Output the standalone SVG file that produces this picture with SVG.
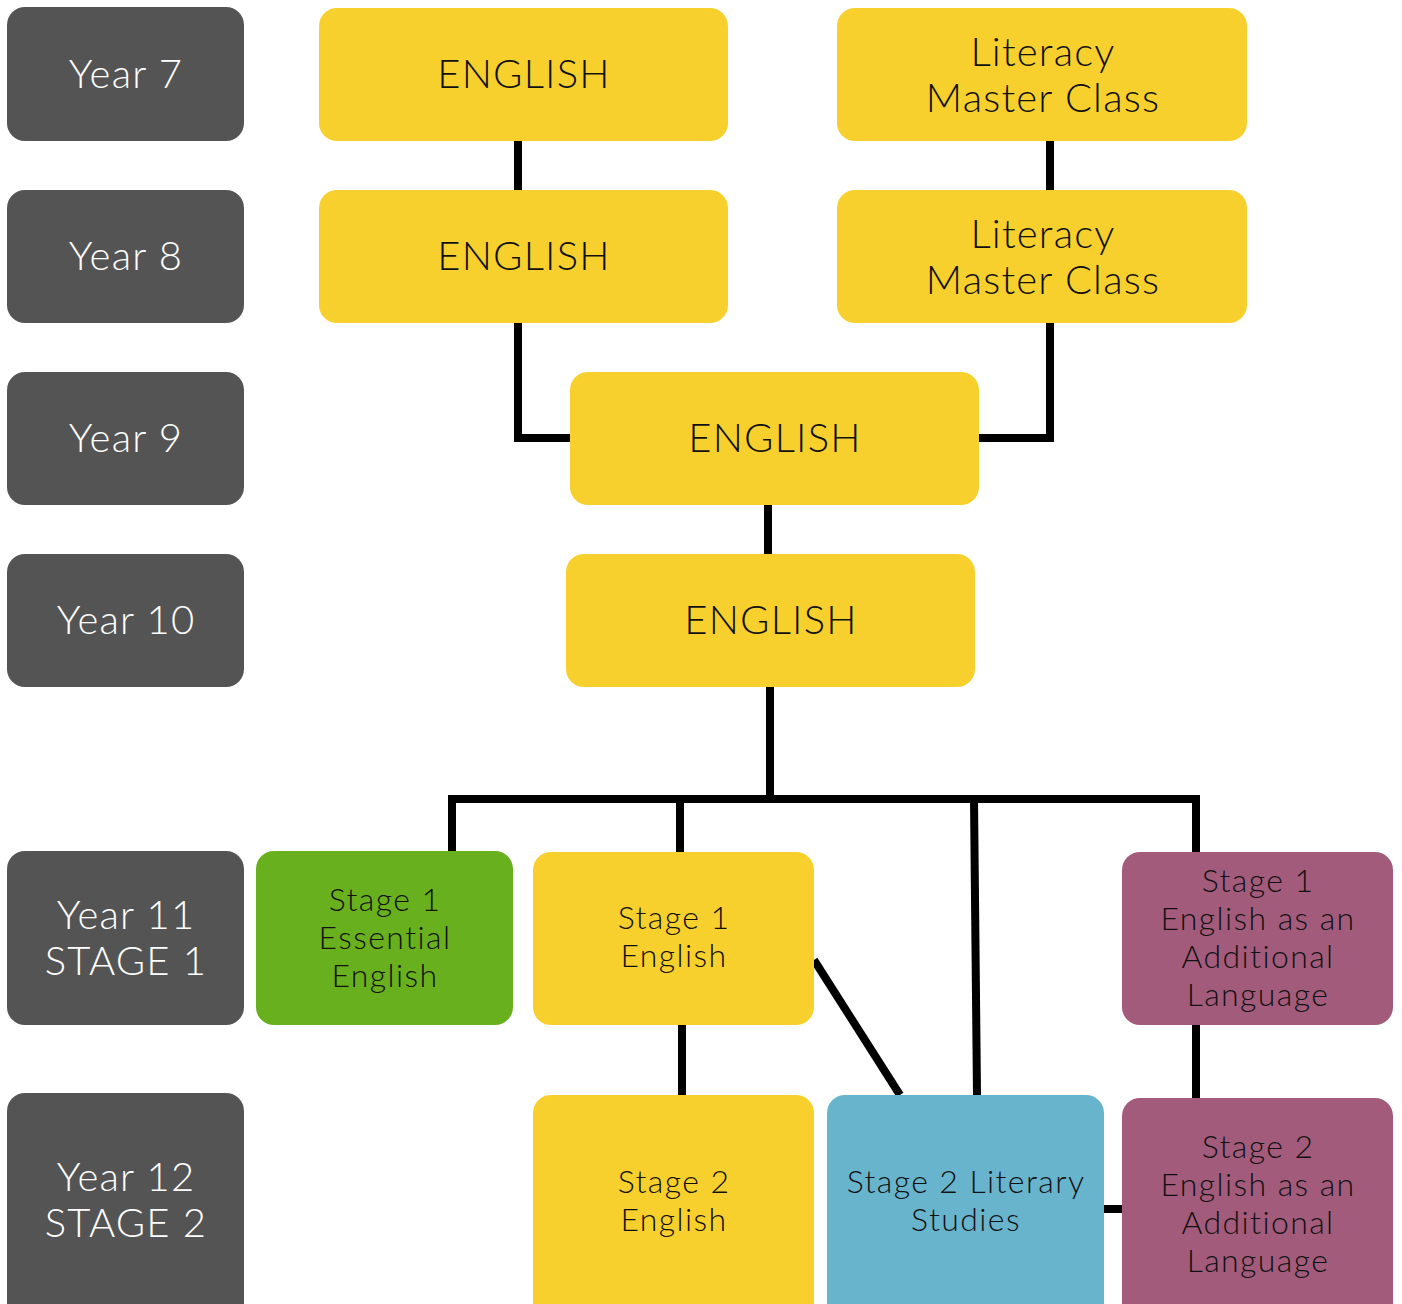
<svg xmlns="http://www.w3.org/2000/svg" width="1402" height="1304" viewBox="0 0 1402 1304">
<style>
.yr{fill:#545454}
.ye{fill:#F8D02D}
.gr{fill:#69B01F}
.pu{fill:#A35B7B}
.bl{fill:#69B4CD}
text{font-family:Lato,"Open Sans","Liberation Sans",sans-serif;text-anchor:middle;font-weight:300}
.w{fill:#ffffff;font-size:40px;letter-spacing:1.2px}
.b{fill:#111111;font-size:40px;letter-spacing:1.2px}
.s{fill:#111111;font-size:32px;letter-spacing:1.4px}
.c{fill:none;stroke:#000;stroke-width:8;stroke-linecap:butt;stroke-linejoin:miter}
</style>
<rect width="1402" height="1304" fill="#ffffff"/>
<g id="connectors">
<path class="c" d="M518 141V190"/>
<path class="c" d="M1050 141V190"/>
<path class="c" d="M518 323V438H570"/>
<path class="c" d="M1050 323V438H979"/>
<path class="c" d="M768 505V554"/>
<path class="c" d="M770 687V799"/>
<path class="c" d="M452 851V799H1196V852"/>
<path class="c" d="M680 799V852"/>
<path class="c" d="M974 799L977 1095"/>
<path class="c" d="M682 1025V1095"/>
<path class="c" d="M814 960L900 1095"/>
<path class="c" d="M1196 1025V1098"/>
<path class="c" d="M1104 1209H1122"/>
</g>
<g id="year7"><rect class="yr" x="7" y="7" width="237" height="134" rx="18"/><text class="w" x="126" y="88">Year 7</text></g>
<g id="year8"><rect class="yr" x="7" y="190" width="237" height="133" rx="18"/><text class="w" x="126" y="270">Year 8</text></g>
<g id="year9"><rect class="yr" x="7" y="372" width="237" height="133" rx="18"/><text class="w" x="126" y="452">Year 9</text></g>
<g id="year10"><rect class="yr" x="7" y="554" width="237" height="133" rx="18"/><text class="w" x="126" y="634">Year 10</text></g>
<g id="year11"><rect class="yr" x="7" y="851" width="237" height="174" rx="18"/><text class="w" x="126" y="929">Year 11</text><text class="w" x="126" y="975">STAGE 1</text></g>
<g id="year12"><rect class="yr" x="7" y="1093" width="237" height="230" rx="18"/><text class="w" x="126" y="1191">Year 12</text><text class="w" x="126" y="1237">STAGE 2</text></g>
<g id="english7"><rect class="ye" x="319" y="8" width="409" height="133" rx="18"/><text class="b" x="524" y="88">ENGLISH</text></g>
<g id="literacy7"><rect class="ye" x="837" y="8" width="410" height="133" rx="18"/><text class="b" x="1043" y="66">Literacy</text><text class="b" x="1043" y="112">Master Class</text></g>
<g id="english8"><rect class="ye" x="319" y="190" width="409" height="133" rx="18"/><text class="b" x="524" y="270">ENGLISH</text></g>
<g id="literacy8"><rect class="ye" x="837" y="190" width="410" height="133" rx="18"/><text class="b" x="1043" y="248">Literacy</text><text class="b" x="1043" y="294">Master Class</text></g>
<g id="english9"><rect class="ye" x="570" y="372" width="409" height="133" rx="18"/><text class="b" x="775" y="452">ENGLISH</text></g>
<g id="english10"><rect class="ye" x="566" y="554" width="409" height="133" rx="18"/><text class="b" x="771" y="634">ENGLISH</text></g>
<g id="s1essential"><rect class="gr" x="256" y="851" width="257" height="174" rx="18"/><text class="s" x="385" y="911">Stage 1</text><text class="s" x="385" y="949">Essential</text><text class="s" x="385" y="987">English</text></g>
<g id="s1english"><rect class="ye" x="533" y="852" width="281" height="173" rx="18"/><text class="s" x="674" y="929">Stage 1</text><text class="s" x="674" y="967">English</text></g>
<g id="s1eal"><rect class="pu" x="1122" y="852" width="271" height="173" rx="18"/><text class="s" x="1258" y="892">Stage 1</text><text class="s" x="1258" y="930">English as an</text><text class="s" x="1258" y="968">Additional</text><text class="s" x="1258" y="1006">Language</text></g>
<g id="s2english"><rect class="ye" x="533" y="1095" width="281" height="230" rx="18"/><text class="s" x="674" y="1193">Stage 2</text><text class="s" x="674" y="1231">English</text></g>
<g id="s2literary"><rect class="bl" x="827" y="1095" width="277" height="230" rx="18"/><text class="s" x="966" y="1193">Stage 2 Literary</text><text class="s" x="966" y="1231">Studies</text></g>
<g id="s2eal"><rect class="pu" x="1122" y="1098" width="271" height="230" rx="18"/><text class="s" x="1258" y="1158">Stage 2</text><text class="s" x="1258" y="1196">English as an</text><text class="s" x="1258" y="1234">Additional</text><text class="s" x="1258" y="1272">Language</text></g>
</svg>
